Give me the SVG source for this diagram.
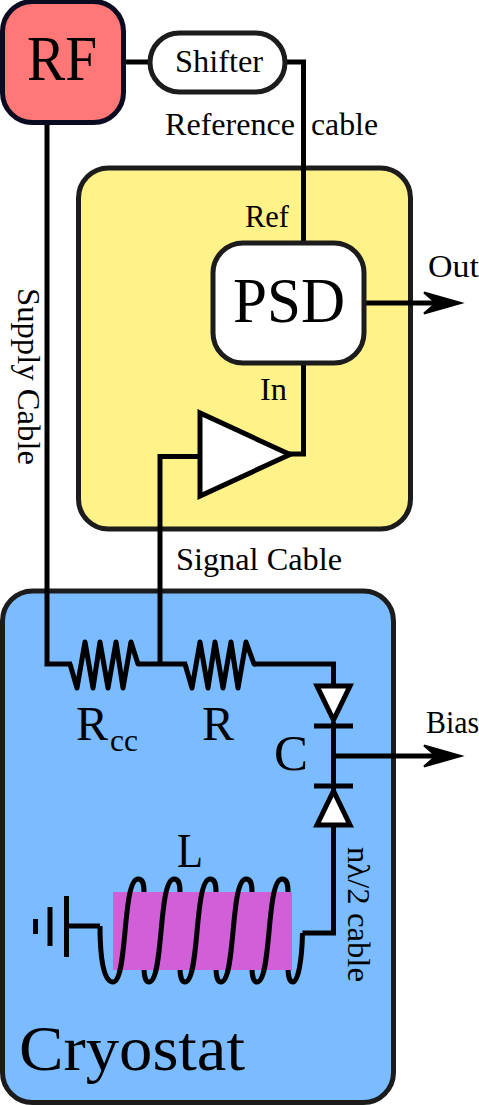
<svg xmlns="http://www.w3.org/2000/svg" width="479" height="1105" viewBox="0 0 479 1105">
<style>
text{font-family:"Liberation Serif","Times New Roman",serif;fill:#000}
.w{fill:none;stroke:#000;stroke-width:5}
.z{fill:none;stroke:#000;stroke-width:5;stroke-linejoin:round}
.b{stroke:#1c1c1c;stroke-width:5}
.big{font-size:63px}
.mid{font-size:31px}
</style>
<defs>
<path id="ah" d="M-2,0 L-39,-10.500 L-27,0 L-39,10.500 Z" fill="#000" stroke="#000" stroke-width="2"/>
</defs>
<g id="cryostat"><rect class="b" x="2.500" y="591" width="391" height="511.500" rx="30" fill="#7abcff"/>
<text class="big" x="19" y="1070" textLength="226" lengthAdjust="spacingAndGlyphs">Cryostat</text></g>
<g id="detector"><rect class="b" x="78.500" y="168" width="332" height="361" rx="30" fill="#fff288"/></g>
<g id="connectors">
<path class="w" d="M47,122V664H72"/>
<path class="z" d="M70,664L77,688L85,642L93,688L100,642L108,688L116,642L123,688L131,642L138,664H187"/>
<path class="z" d="M185,664L192,688L200,642L208,688L215,642L223,688L231,642L238,688L246,642L254,664H256"/>
<path class="w" d="M254,664H333.500V686"/>
<path class="w" d="M160,664V456.500H200"/>
<path class="w" d="M122,62H150"/>
<path class="w" d="M285,62H303.500V243"/>
<path class="w" d="M303.500,363V454H288"/>
<path class="w" d="M364,303H435"/><use href="#ah" x="463" y="303"/>
<path class="w" d="M333.500,722V825"/>
<path class="w" d="M333.500,756H435"/><use href="#ah" x="463" y="756"/>
<path class="w" d="M333.500,825V933H302.500"/>
<path class="w" d="M67,926H100"/>
</g>
<g id="rf"><rect x="2.500" y="1.500" width="121" height="121" rx="30" fill="#ff7777" stroke="#0a0a20" stroke-width="5"/>
<text class="big" x="27" y="80" textLength="70" lengthAdjust="spacingAndGlyphs">RF</text></g>
<g id="shifter"><rect class="b" x="150" y="33" width="135" height="59" rx="29.500" fill="#fff"/>
<text class="mid" x="175" y="72" textLength="88" lengthAdjust="spacingAndGlyphs">Shifter</text></g>
<g id="psd"><rect class="b" x="213" y="243" width="151" height="120" rx="30" fill="#fff"/>
<text class="big" x="233" y="322" textLength="112" lengthAdjust="spacingAndGlyphs">PSD</text></g>
<g id="amp"><path d="M200,413V496L290,454.500Z" fill="#fff" stroke="#000" stroke-width="5"/></g>
<g id="diodes">
<path d="M317,686H350L333.500,720Z" fill="#fff" stroke="#000" stroke-width="5"/>
<path class="w" d="M314,726H353M314,786H353"/>
<path d="M317,825H350L333.500,791Z" fill="#fff" stroke="#000" stroke-width="5"/>
</g>
<g id="inductor">
<path class="w" d="M138,879C143,879 144,884 144,892V968C144,977 146,982 149,982M174,879C179,879 180,884 180,892V968C180,977 182,982 185,982M210,879C215,879 216,884 216,892V968C216,977 218,982 221,982M246,879C251,879 252,884 252,892V968C252,977 254,982 257,982M282,879C287,879 288,884 288,892V968C288,977 290,982 293,982"/>
<rect x="113" y="892" width="179" height="78" fill="#d05fd8"/>
<path class="w" d="M100,926C100,960 104,982 113,982C128,982 122,879 138,879M149,982C164,982 158,879 174,879M185,982C200,982 194,879 210,879M221,982C236,982 230,879 246,879M257,982C272,982 266,879 282,879M293,982C298,982 302,960 302.500,933"/>
</g>
<g id="ground"><path class="w" d="M66.500,896V957M50,907V946"/><path d="M33,919h5v15h-5z" fill="#000"/></g>
<g id="labels">
<text class="mid" x="165" y="135" textLength="130" lengthAdjust="spacingAndGlyphs">Reference</text>
<text class="mid" x="311" y="135" textLength="67" lengthAdjust="spacingAndGlyphs">cable</text>
<text class="mid" x="245" y="227" textLength="44" lengthAdjust="spacingAndGlyphs">Ref</text>
<text class="mid" x="260" y="400" textLength="27" lengthAdjust="spacingAndGlyphs">In</text>
<text class="mid" x="428" y="277" textLength="51" lengthAdjust="spacingAndGlyphs">Out</text>
<text class="mid" x="176" y="570" textLength="166" lengthAdjust="spacingAndGlyphs">Signal Cable</text>
<text class="mid" x="426" y="733" textLength="53" lengthAdjust="spacingAndGlyphs">Bias</text>
<text class="mid" transform="translate(18,288) rotate(90)" textLength="177" lengthAdjust="spacingAndGlyphs">Supply Cable</text>
<text class="mid" transform="translate(348,847) rotate(90)" textLength="135" lengthAdjust="spacingAndGlyphs">nλ/2 cable</text>
<text font-size="48" x="76" y="740" textLength="32" lengthAdjust="spacingAndGlyphs">R</text>
<text font-size="32" x="110" y="751" textLength="28" lengthAdjust="spacingAndGlyphs">cc</text>
<text font-size="48" x="202" y="740" textLength="32" lengthAdjust="spacingAndGlyphs">R</text>
<text font-size="50" x="274" y="770" textLength="34" lengthAdjust="spacingAndGlyphs">C</text>
<text font-size="48" x="177" y="867" textLength="26" lengthAdjust="spacingAndGlyphs">L</text>
</g>
</svg>
